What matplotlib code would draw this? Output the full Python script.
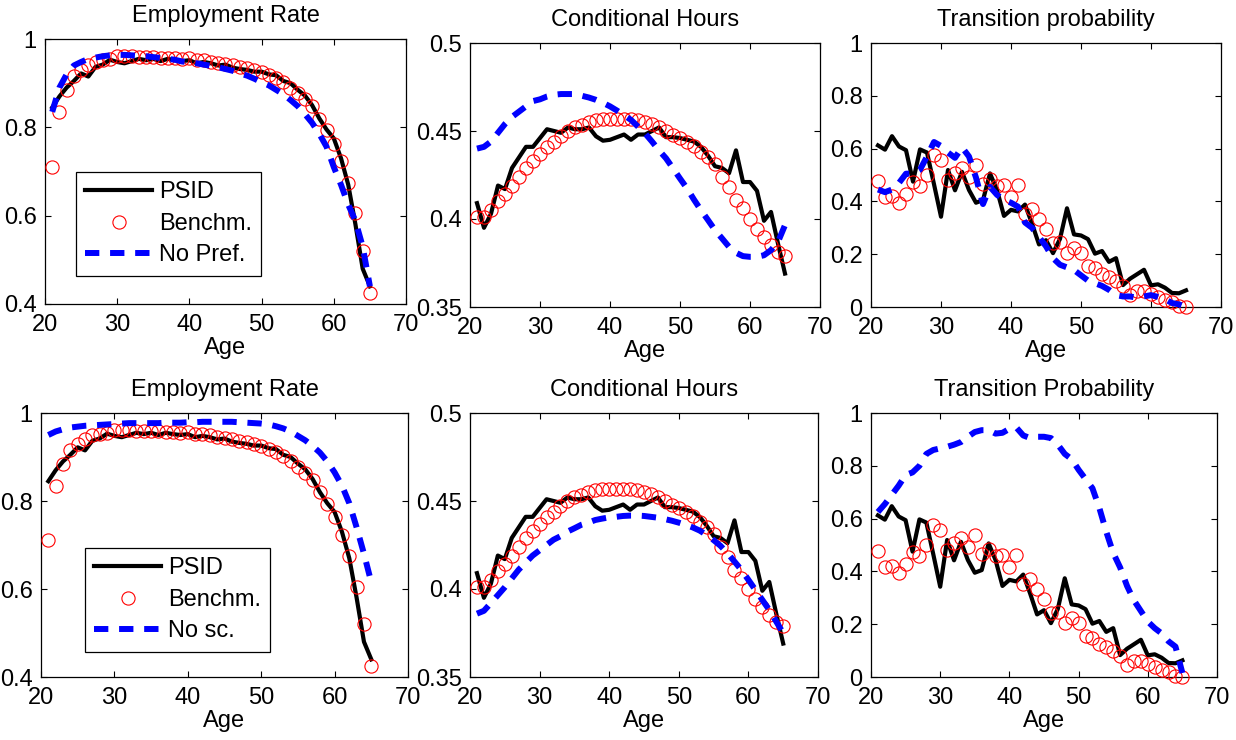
import matplotlib
matplotlib.use('Agg')
import matplotlib.pyplot as plt

plt.rcParams['font.family'] = ['Liberation Sans', 'DejaVu Sans']

# ---------------- data (ages 21..65) ----------------
age = [21, 22, 23, 24, 25, 26, 27, 28, 29, 30,
       31, 32, 33, 34, 35, 36, 37, 38, 39, 40,
       41, 42, 43, 44, 45, 46, 47, 48, 49, 50,
       51, 52, 53, 54, 55, 56, 57, 58, 59, 60,
       61, 62, 63, 64, 65]

emp_psid = [0.845, 0.870, 0.890, 0.905, 0.922, 0.915, 0.937, 0.942, 0.953, 0.948,
            0.945, 0.950, 0.955, 0.952, 0.955, 0.950, 0.955, 0.952, 0.950, 0.952,
            0.945, 0.948, 0.945, 0.940, 0.942, 0.935, 0.932, 0.930, 0.926, 0.926,
            0.920, 0.918, 0.905, 0.900, 0.885, 0.872, 0.850, 0.820, 0.795, 0.775,
            0.730, 0.670, 0.580, 0.480, 0.440]
emp_bench = [0.711, 0.835, 0.885, 0.916, 0.930, 0.941, 0.949, 0.952, 0.954, 0.962,
             0.962, 0.961, 0.960, 0.960, 0.959, 0.958, 0.957, 0.956, 0.955, 0.956,
             0.953, 0.952, 0.949, 0.946, 0.944, 0.941, 0.937, 0.934, 0.930, 0.926,
             0.919, 0.911, 0.902, 0.890, 0.878, 0.864, 0.848, 0.820, 0.794, 0.763,
             0.723, 0.675, 0.605, 0.521, 0.424]
emp_nopref = [0.835, 0.890, 0.920, 0.940, 0.948, 0.955, 0.958, 0.961, 0.963, 0.964,
              0.964, 0.963, 0.962, 0.961, 0.959, 0.957, 0.955, 0.953, 0.949, 0.947,
              0.945, 0.942, 0.939, 0.936, 0.932, 0.928, 0.922, 0.917, 0.910, 0.902,
              0.895, 0.885, 0.875, 0.862, 0.848, 0.830, 0.810, 0.785, 0.756, 0.710,
              0.670, 0.625, 0.588, 0.530, 0.440]
emp_nosc = [0.950, 0.958, 0.963, 0.967, 0.969, 0.971, 0.972, 0.973, 0.974, 0.975,
            0.976, 0.977, 0.977, 0.977, 0.977, 0.977, 0.978, 0.978, 0.978, 0.979,
            0.979, 0.980, 0.980, 0.980, 0.980, 0.980, 0.979, 0.978, 0.977, 0.976,
            0.974, 0.970, 0.965, 0.958, 0.948, 0.938, 0.925, 0.910, 0.890, 0.865,
            0.835, 0.795, 0.740, 0.680, 0.615]

hours_psid = [0.409, 0.395, 0.403, 0.419, 0.417, 0.429, 0.435, 0.441, 0.441, 0.446,
              0.451, 0.450, 0.449, 0.452, 0.451, 0.451, 0.452, 0.447, 0.4445, 0.445,
              0.4465, 0.448, 0.445, 0.448, 0.448, 0.450, 0.452, 0.4465, 0.4465, 0.446,
              0.445, 0.444, 0.441, 0.436, 0.430, 0.429, 0.426, 0.439, 0.421, 0.421,
              0.416, 0.399, 0.404, 0.386, 0.369]
hours_bench = [0.401, 0.401, 0.405, 0.410, 0.414, 0.419, 0.424, 0.429, 0.433, 0.437,
               0.441, 0.444, 0.447, 0.450, 0.452, 0.4535, 0.455, 0.456, 0.4567, 0.457,
               0.457, 0.457, 0.457, 0.456, 0.455, 0.454, 0.452, 0.450, 0.448, 0.446,
               0.444, 0.4415, 0.438, 0.435, 0.431, 0.424, 0.418, 0.411, 0.406, 0.400,
               0.3946, 0.390, 0.385, 0.381, 0.379]
hours_nopref = [0.440, 0.441, 0.444, 0.449, 0.454, 0.458, 0.461, 0.464, 0.467, 0.468,
                0.4696, 0.4706, 0.471, 0.471, 0.471, 0.470, 0.469, 0.4677, 0.466, 0.464,
                0.4616, 0.459, 0.4563, 0.4525, 0.4487, 0.444, 0.439, 0.4345, 0.4288, 0.423,
                0.4174, 0.411, 0.405, 0.3994, 0.3937, 0.389, 0.3842, 0.3808, 0.3789, 0.3785,
                0.3785, 0.3794, 0.3823, 0.387, 0.3965]
hours_nosc = [0.386, 0.3876, 0.392, 0.3965, 0.401, 0.406, 0.411, 0.415, 0.419, 0.422,
              0.425, 0.428, 0.430, 0.4326, 0.4345, 0.4365, 0.4377, 0.4392, 0.440, 0.4407,
              0.441, 0.4415, 0.4417, 0.4417, 0.4415, 0.441, 0.4405, 0.4397, 0.4388, 0.4377,
              0.4364, 0.435, 0.4332, 0.4307, 0.4278, 0.4245, 0.4203, 0.4156, 0.4108, 0.4052,
              0.3995, 0.3938, 0.3881, 0.3815, 0.3749]

trans_psid = [0.612, 0.596, 0.647, 0.608, 0.594, 0.475, 0.597, 0.585, 0.465, 0.342,
              0.519, 0.442, 0.512, 0.443, 0.395, 0.405, 0.506, 0.443, 0.345, 0.368,
              0.362, 0.388, 0.316, 0.237, 0.253, 0.204, 0.258, 0.374, 0.275, 0.271,
              0.257, 0.202, 0.212, 0.171, 0.185, 0.083, 0.107, 0.124, 0.141, 0.082,
              0.086, 0.073, 0.053, 0.052, 0.063]
trans_bench = [0.478, 0.415, 0.420, 0.395, 0.428, 0.475, 0.458, 0.500, 0.576, 0.557,
               0.480, 0.506, 0.525, 0.494, 0.538, 0.466, 0.484, 0.458, 0.462, 0.415,
               0.462, 0.352, 0.370, 0.332, 0.294, 0.243, 0.247, 0.205, 0.225, 0.205,
               0.156, 0.146, 0.124, 0.114, 0.099, 0.078, 0.044, 0.061, 0.061, 0.048,
               0.038, 0.028, 0.019, 0.0025, 0.0]
trans_nopref = [0.445, 0.435, 0.445, 0.470, 0.505, 0.505, 0.520, 0.570, 0.625, 0.610,
                0.585, 0.565, 0.605, 0.570, 0.490, 0.390, 0.455, 0.425, 0.405, 0.395,
                0.380, 0.320, 0.300, 0.265, 0.230, 0.185, 0.160, 0.150, 0.140, 0.120,
                0.100, 0.090, 0.080, 0.065, 0.045, 0.040, 0.040, 0.035, 0.040, 0.045,
                0.038, 0.030, 0.015, 0.010, 0.000]
trans_nosc = [0.625, 0.655, 0.690, 0.725, 0.765, 0.775, 0.800, 0.845, 0.860, 0.866,
              0.872, 0.880, 0.890, 0.910, 0.928, 0.935, 0.935, 0.922, 0.925, 0.940,
              0.945, 0.915, 0.905, 0.910, 0.910, 0.905, 0.880, 0.845, 0.825, 0.785,
              0.750, 0.715, 0.640, 0.550, 0.470, 0.415, 0.345, 0.290, 0.250, 0.210,
              0.185, 0.165, 0.135, 0.115, 0.015]

titles_top = ['Employment Rate', 'Conditional Hours', 'Transition probability']
titles_bottom = ['Employment Rate', 'Conditional Hours', 'Transition Probability']
xticks = [20, 30, 40, 50, 60, 70]
yticks_emp = [0.4, 0.6, 0.8, 1.0]
yticklabels_emp = ['0.4', '0.6', '0.8', '1']
yticks_hours = [0.35, 0.40, 0.45, 0.50]
yticklabels_hours = ['0.35', '0.4', '0.45', '0.5']
yticks_trans = [0, 0.2, 0.4, 0.6, 0.8, 1.0]
yticklabels_trans = ['0', '0.2', '0.4', '0.6', '0.8', '1']
legend_top = ['PSID', 'Benchm.', 'No Pref.']
legend_bottom = ['PSID', 'Benchm.', 'No sc.']

# ---------------- figure ----------------
W, H = 1236, 740
fig = plt.figure(figsize=(W / 100, H / 100), dpi=100)
FS = 17


def px_axes(l, t, r, b):
    return fig.add_axes([l / W, 1 - b / H, (r - l) / W, (b - t) / H])


def panel(box, psid, bench, alt, title, ylim, yt, ytl):
    ax = px_axes(*box)
    l1, = ax.plot(age, psid, color='k', lw=3.0, clip_on=False, zorder=3)
    l2, = ax.plot(age, bench, linestyle='none', marker='o', mfc='none', mec='#ff0000',
                  ms=9.5, mew=0.8, clip_on=False, zorder=4)
    l3, = ax.plot(age, alt, color='#0000ff', lw=4.3, dashes=(2.4, 1.8),
                  clip_on=False, zorder=5)
    ax.set_xlim(20, 70)
    ax.set_ylim(*ylim)
    ax.set_xticks(xticks)
    ax.set_xticklabels([str(v) for v in xticks])
    ax.set_yticks(yt)
    ax.set_yticklabels(ytl)
    ax.tick_params(direction='in', top=True, right=True, length=4, width=0.8,
                   labelsize=FS)
    ax.tick_params(axis='x', pad=7)
    ax.tick_params(axis='y', pad=6)
    for s in ax.spines.values():
        s.set_linewidth(0.9)
    ax.set_title(title, fontsize=FS, pad=12)
    ax.set_xlabel('Age', fontsize=FS, labelpad=1)
    return ax, (l1, l2, l3)


boxes_top = [(45, 39, 406, 304), (470, 43, 820, 307), (871, 43, 1221, 307)]
boxes_bot = [(41, 413, 408, 677), (470, 413, 818, 677), (871, 413, 1217, 677)]

ax, h = panel(boxes_top[0], emp_psid, emp_bench, emp_nopref, titles_top[0],
              (0.4, 1.0), yticks_emp, yticklabels_emp)
leg = ax.legend(h, legend_top, loc='upper left', bbox_to_anchor=(0.086, 0.498),
                borderaxespad=0, fancybox=False, edgecolor='k', framealpha=1,
                fontsize=FS, handlelength=2.8, handletextpad=0.3, borderpad=0.4,
                labelspacing=0.4, numpoints=1)
leg.get_frame().set_linewidth(0.9)

panel(boxes_top[1], hours_psid, hours_bench, hours_nopref, titles_top[1],
      (0.35, 0.5), yticks_hours, yticklabels_hours)
panel(boxes_top[2], trans_psid, trans_bench, trans_nopref, titles_top[2],
      (0, 1), yticks_trans, yticklabels_trans)

ax, h = panel(boxes_bot[0], emp_psid, emp_bench, emp_nosc, titles_bottom[0],
              (0.4, 1.0), yticks_emp, yticklabels_emp)
leg = ax.legend(h, legend_bottom, loc='upper left', bbox_to_anchor=(0.12, 0.489),
                borderaxespad=0, fancybox=False, edgecolor='k', framealpha=1,
                fontsize=FS, handlelength=2.8, handletextpad=0.3, borderpad=0.4,
                labelspacing=0.4, numpoints=1)
leg.get_frame().set_linewidth(0.9)

panel(boxes_bot[1], hours_psid, hours_bench, hours_nosc, titles_bottom[1],
      (0.35, 0.5), yticks_hours, yticklabels_hours)
panel(boxes_bot[2], trans_psid, trans_bench, trans_nosc, titles_bottom[2],
      (0, 1), yticks_trans, yticklabels_trans)

fig.savefig('out.png', dpi=100, facecolor='white')
